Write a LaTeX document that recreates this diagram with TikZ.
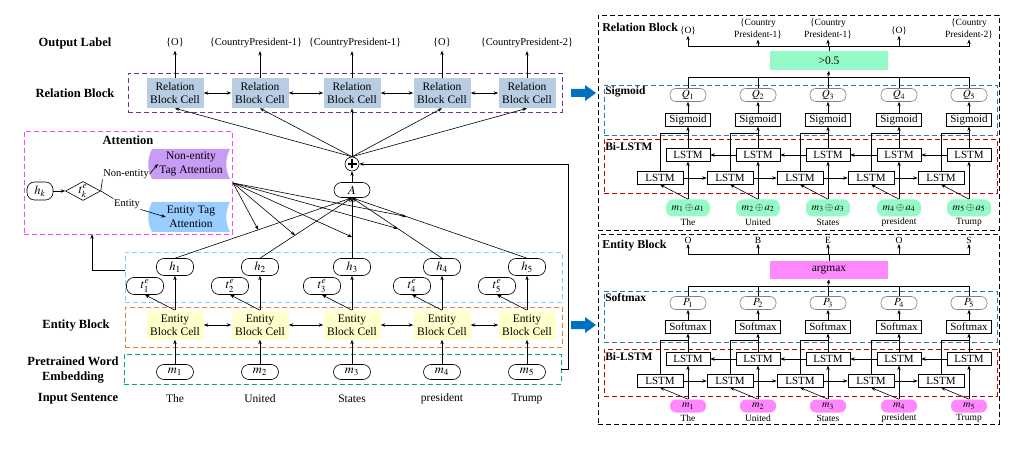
\documentclass[tikz,border=0pt]{standalone}
\usepackage{mathptmx}
\usepackage{fontspec}
\setmainfont{Liberation Serif}
\usetikzlibrary{arrows.meta,shapes.geometric,calc}
\definecolor{relblue}{RGB}{184,204,228}
\definecolor{entyellow}{RGB}{255,255,204}
\definecolor{nepurple}{RGB}{200,155,245}
\definecolor{etblue}{RGB}{153,204,255}
\definecolor{mint}{RGB}{150,250,200}
\definecolor{magfill}{RGB}{255,136,255}
\definecolor{purpdash}{RGB}{112,48,160}
\definecolor{attmag}{RGB}{255,64,255}
\definecolor{hblue}{RGB}{142,200,255}
\definecolor{orng}{RGB}{237,125,49}
\definecolor{grn}{RGB}{0,176,80}
\definecolor{rblue}{RGB}{46,117,182}
\definecolor{rred}{RGB}{192,0,0}
\definecolor{bigblue}{RGB}{0,112,192}
\begin{document}
\begin{tikzpicture}[x=1pt,y=-1pt,
  >={Stealth[length=4.5pt,width=3.4pt]}, line width=0.6pt,
  every node/.style={font=\fontsize{11.5}{13.5}\selectfont, inner sep=1pt},
  relcell/.style={fill=relblue, minimum width=57pt, minimum height=30pt, align=center, inner sep=0pt},
  entcell/.style={fill=entyellow, minimum width=57pt, minimum height=29pt, align=center, inner sep=0pt},
  pill/.style={draw, rounded corners=7.5pt, minimum width=37pt, minimum height=17pt, inner sep=0pt, font=\fontsize{12.5}{12.5}\selectfont},
  rowlbl/.style={font=\bfseries\fontsize{12.5}{15}\selectfont, align=center},
  outlbl/.style={font=\fontsize{10.5}{13}\selectfont, inner sep=3pt},
  boxttl/.style={font=\bfseries\fontsize{11.5}{13}\selectfont, anchor=west, inner sep=0pt},
  dbox/.style={draw=#1, dash pattern=on 5pt off 3pt, line width=0.8pt, inner sep=0pt},
  lstm/.style={draw, minimum width=44pt, minimum height=12.5pt, inner sep=0pt, font=\fontsize{11}{11}\selectfont},
  smallpill/.style={draw=gray, rounded corners=6pt, minimum width=36pt, minimum height=13pt, inner sep=0pt, font=\fontsize{11}{11}\selectfont},
  inpill/.style={fill=#1, rounded corners=7pt, minimum width=44pt, minimum height=17pt, inner sep=0pt, font=\fontsize{10.5}{11}\selectfont},
  rsmall/.style={font=\fontsize{9.5}{11.5}\selectfont, align=center, inner sep=0.5pt},
  wordlbl/.style={font=\fontsize{11.5}{13}\selectfont}
]
\useasboundingbox (0,0) rectangle (1018,449);

% ================= LEFT PANEL =================
\node[dbox=purpdash, minimum width=434pt, minimum height=39pt] (relbox) at (345,92.5) {};
\node[dbox=hblue, minimum width=437pt, minimum height=50pt] (hbox) at (343.5,277) {};
\node[dbox=orng, minimum width=437pt, minimum height=40pt] (entbox) at (343.5,327) {};
\node[dbox=grn, minimum width=437pt, minimum height=30pt] (embbox) at (342.5,369) {};
\node[dbox=attmag, minimum width=208pt, minimum height=103pt] (attbox) at (128,182.5) {};

\node[rowlbl] (lOut) at (75,43) {Output Label};
\node[rowlbl] (lRel) at (75,93) {Relation Block};
\node[rowlbl] (lEnt) at (76,326) {Entity Block};
\node[rowlbl] (lEmb) at (73,370) {Pretrained Word\\Embedding};
\node[rowlbl] (lIn) at (78,399) {Input Sentence};

\node[outlbl] (o1) at (175,43) {\{O\}};
\node[outlbl] (o2) at (256,43) {\{CountryPresident-1\}};
\node[outlbl] (o3) at (355,43) {\{CountryPresident-1\}};
\node[outlbl] (o4) at (442,43) {\{O\}};
\node[outlbl] (o5) at (527,43) {\{CountryPresident-2\}};

\node[circle, draw, minimum size=14pt, inner sep=0pt] (plus) at (352,164) {};
\draw[line width=1.3pt] ([xshift=-4.5pt]plus.center) -- ([xshift=4.5pt]plus.center);
\draw[line width=1.3pt] ([yshift=-4.5pt]plus.center) -- ([yshift=4.5pt]plus.center);
\node[pill, minimum width=36pt, minimum height=15pt] (A) at (352,190) {$A$};
\draw[->] (A) -- (plus);

\foreach \i/\x/\w in {1/175/The,2/260/United,3/352/States,4/442/president,5/527/Trump}{
  \node[relcell] (r\i) at (\x,93) {Relation\\Block Cell};
  \node[pill] (h\i) at (\x,267) {$h_{\i}$};
  \node[pill] (t\i) at (\x-30,286) {$t^{e}_{\i}$};
  \node[entcell] (e\i) at (\x,325) {Entity\\Block Cell};
  \node[pill, minimum height=15pt] (m\i) at (\x,372) {$m_{\i}$};
  \node[wordlbl] (w\i) at (\x,399) {\w};
  \draw[->] (r\i.north) -- (o\i.south -| r\i.north);
  \draw[->] (plus.north) -- (r\i.south);
  \draw[->] (e\i.north) -- (h\i.south);
  \draw[->] (e\i.north) -- (t\i.south);
  \draw[->] (m\i.north) -- (e\i.south);
  \draw[->] (h\i.north) -- (A.south);
}
\foreach \i/\j in {1/2,2/3,3/4,4/5}{
  \draw[<->] (r\i.east) -- (r\j.west);
  \draw[<->] (e\i.east) -- (e\j.west);
}
\draw[->] (embbox.east) -- ++(6.5,0) |- (plus.east);

% attention block
\node[font=\bfseries\fontsize{12.5}{14}\selectfont] (attttl) at (128,140) {Attention};
\fill[nepurple] (152,149) .. controls (147,159) and (147,169) .. (152,179) -- (230,179) .. controls (225,169) and (225,159) .. (230,149) -- cycle;
\fill[etblue] (152,202) .. controls (147,212) and (147,222) .. (152,232) -- (230,232) .. controls (225,222) and (225,212) .. (230,202) -- cycle;
\node[align=center] (ne) at (191,164) {Non-entity\\Tag Attention};
\node[align=center] (et) at (191,217) {Entity Tag\\Attention};
\node[pill, minimum width=26pt, minimum height=18pt] (hk) at (40,191) {$h_k$};
\node[diamond, draw, aspect=1.8, inner sep=-1pt, minimum width=35pt, minimum height=19pt, font=\fontsize{12.5}{12.5}\selectfont] (tk) at (83,191) {$t^{e}_{k}$};
\draw[->] (hk) -- (tk);
\node[font=\fontsize{10.5}{12}\selectfont, inner sep=0.5pt] (nelab) at (126,174) {Non-entity};
\node[font=\fontsize{10.5}{12}\selectfont, inner sep=0.5pt] (enlab) at (127,204) {Entity};
\draw (tk.east) -- (nelab.south west);
\draw[->] (nelab.east) -- (ne.west);
\draw (tk.east) -- (enlab.north west);
\draw[->] (enlab.south east) -- (et.west);
\coordinate (nefan) at (233,183);
\draw[->] (nefan) -- ($(h1.north)!0.47!(A.south)$);
\draw[->] (nefan) -- ($(h2.north)!0.38!(A.south)$);
\draw[->] (nefan) -- ($(h3.north)!0.35!(A.south)$);
\draw[->] (nefan) -- ($(h4.north)!0.49!(A.south)$);
\draw[->] (nefan) -- ($(h5.north)!0.69!(A.south)$);
\draw[->] ([yshift=7pt]hbox.west) -| ([xshift=-36pt]attbox.south);

% big arrows
\fill[bigblue] (571,89) -- (585,89) -- (585,85) -- (596,93) -- (585,101) -- (585,97) -- (571,97) -- cycle;
\fill[bigblue] (571,321) -- (585,321) -- (585,317) -- (596,325) -- (585,333) -- (585,329) -- (571,329) -- cycle;

% ================= RIGHT TOP PANEL =================
\node[dbox=black, minimum width=401pt, minimum height=215pt] (relpanel) at (798.5,122.5) {};
\node[dbox=rblue, minimum width=393pt, minimum height=50pt] (sigbox) at (800.5,110) {};
\node[dbox=rred, minimum width=393pt, minimum height=54pt] (lstmboxA) at (800.5,166) {};
\node[boxttl, font=\bfseries\fontsize{12}{14}\selectfont] (relttl) at (602,27) {Relation Block};
\node[boxttl] (sigttl) at (605,92) {Sigmoid};
\node[boxttl] (blAttl) at (605,147) {Bi-LSTM};

\node[rsmall] (rl1) at (688,31) {\{O\}};
\node[rsmall] (rl2) at (758,29) {\{Country\\President-1\}};
\node[rsmall] (rl3) at (828,29) {\{Country\\President-1\}};
\node[rsmall] (rl4) at (899,31) {\{O\}};
\node[rsmall] (rl5) at (969,29) {\{Country\\President-2\}};
\node[fill=mint, minimum width=118pt, minimum height=19pt, inner sep=0pt] (gt) at (829,61) {>0.5};
\coordinate (qbus) at (828,77);
\draw[->] (qbus) -- (gt.south);

\foreach \i/\X/\w in {1/688/The,2/758/United,3/828/States,4/899/president,5/969/Trump}{
  \node[smallpill] (Q\i) at (\X,95) {$Q_{\i}$};
  \node[lstm, minimum width=45pt] (S\i) at (\X,120) {Sigmoid};
  \node[lstm] (U\i) at (\X,155) {LSTM};
  \node[lstm, minimum width=46pt] (L\i) at (\X-28,178) {LSTM};
  \node[inpill=mint] (I\i) at (\X,208) {$m_{\i}\oplus a_{\i}$};
  \node[rsmall, inner sep=0pt] (tw\i) at (\X,222) {\w};
  \draw[->] (gt.north) -- ++(0,-4.5) -| (rl\i.south);
  \draw (Q\i.north) |- (qbus);
  \draw[->] (S\i.north) -- (Q\i.south);
  \draw[->] (U\i.north) -- (S\i.south);
  \draw (L\i.north) |- ($(S\i.south)+(0,6.5)$);
  \draw[->] (I\i.north) -- (U\i.south);
  \draw[->] (I\i.north) -- (L\i.south);
}
\foreach \i/\j in {1/2,2/3,3/4,4/5}{
  \draw[->] (L\i.east) -- (L\j.west);
  \draw[->] (U\j.west) -- (U\i.east);
}

% ================= RIGHT BOTTOM PANEL =================
\node[dbox=black, minimum width=401pt, minimum height=190pt] (entpanel) at (798.5,329) {};
\node[dbox=rblue, minimum width=393pt, minimum height=51pt] (softbox) at (800.5,316.5) {};
\node[dbox=rred, minimum width=393pt, minimum height=47pt] (lstmboxB) at (800.5,372.5) {};
\node[boxttl, font=\bfseries\fontsize{12}{14}\selectfont] (entttl) at (602,246) {Entity Block};
\node[boxttl] (softttl) at (605,298) {Softmax};
\node[boxttl] (blBttl) at (605,357) {Bi-LSTM};

\node[fill=magfill, minimum width=118pt, minimum height=18pt, inner sep=0pt] (am) at (829,270) {argmax};
\coordinate (pbus) at (828,286);
\draw[->] (pbus) -- (am.south);

\foreach \i/\X/\w/\t in {1/688/The/O,2/758/United/B,3/828/States/E,4/899/president/O,5/969/Trump/S}{
  \node[rsmall] (el\i) at (\X,240) {\t};
  \node[smallpill] (P\i) at (\X,303) {$P_{\i}$};
  \node[lstm, minimum width=45pt] (SM\i) at (\X,327) {Softmax};
  \node[lstm] (UB\i) at (\X,359) {LSTM};
  \node[lstm, minimum width=46pt] (LB\i) at (\X-28,381) {LSTM};
  \node[inpill=magfill, minimum width=36pt, minimum height=13pt, rounded corners=6pt] (M\i) at (\X,406) {$m_{\i}$};
  \node[rsmall, inner sep=0pt] (bw\i) at (\X,418.5) {\w};
  \draw[->] (am.north) -- ++(0,-6) -| (el\i.south);
  \draw (P\i.north) |- (pbus);
  \draw[->] (SM\i.north) -- (P\i.south);
  \draw[->] (UB\i.north) -- (SM\i.south);
  \draw (LB\i.north) |- ($(SM\i.south)+(0,6.5)$);
  \draw[->] (M\i.north) -- (UB\i.south);
  \draw[->] (M\i.north) -- (LB\i.south);
}
\foreach \i/\j in {1/2,2/3,3/4,4/5}{
  \draw[->] (LB\i.east) -- (LB\j.west);
  \draw[->] (UB\j.west) -- (UB\i.east);
}
\end{tikzpicture}
\end{document}
